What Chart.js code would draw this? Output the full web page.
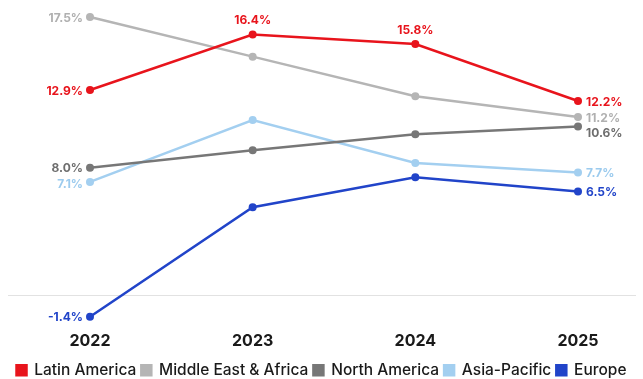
<!DOCTYPE html>
<html lang="en">
<head>
    <meta charset="UTF-8">
    <title>Regional growth 2022-2025</title>
    <style>
        body { margin: 0; background: #fff; }
        #wrap { width: 643px; height: 379px; }
    </style>
</head>
<body>
    <div id="wrap"><canvas id="growthChart"></canvas></div>

    <script src="https://cdn.jsdelivr.net/npm/chart.js"></script>
    <script>
        const years = ['2022', '2023', '2024', '2025'];
        const seriesNames = ['Latin America', 'Middle East & Africa', 'North America', 'Asia-Pacific', 'Europe'];
        const latinAmerica = [12.9, 16.4, 15.8, 12.2];
        const middleEastAfrica = [17.5, 15.0, 12.5, 11.2];
        const northAmerica = [8.0, 9.1, 10.1, 10.6];
        const asiaPacific = [7.1, 11.0, 8.3, 7.7];
        const europe = [-1.4, 5.5, 7.4, 6.5];

        const lineColors = ['#e8141c', '#b5b5b5', '#777777', '#a3cff0', '#2144c9'];
        const labelColors = ['#e8141c', '#b0b0b0', '#6e6e6e', '#9ccbee', '#2144c9'];
        const allValues = [latinAmerica, middleEastAfrica, northAmerica, asiaPacific, europe];

        // push labels apart so they don't overlap
        function spread(items, gap) {
            items.sort((a, b) => a.y - b.y);
            for (let k = 1; k < items.length; k++) {
                if (items[k].y < items[k - 1].y + gap) items[k].y = items[k - 1].y + gap;
            }
            return items;
        }

        // zero line + value labels (left of first point, right of last, above middle Latin America points)
        const labelPlugin = {
            id: 'pointLabels',
            beforeDatasetsDraw(chart) {
                const ctx = chart.ctx;
                const py = Math.round(chart.scales.y.getPixelForValue(0)) + 0.5;
                ctx.save();
                ctx.strokeStyle = '#e2e2e2';
                ctx.lineWidth = 1;
                ctx.beginPath();
                ctx.moveTo(8, py);
                ctx.lineTo(636, py);
                ctx.stroke();
                ctx.restore();
            },
            afterDatasetsDraw(chart) {
                const ctx = chart.ctx;
                ctx.save();
                ctx.font = 'bold 12px Inter, sans-serif';
                ctx.textBaseline = 'middle';
                const fmt = v => v.toFixed(1) + '%';
                const left = [], right = [];
                chart.data.datasets.forEach((ds, i) => {
                    const pts = chart.getDatasetMeta(i).data;
                    const n = pts.length;
                    left.push({ x: pts[0].x - 7, y: pts[0].y + 1, text: fmt(ds.data[0]), color: labelColors[i] });
                    right.push({ x: pts[n - 1].x + 8, y: pts[n - 1].y + 1, text: fmt(ds.data[n - 1]), color: labelColors[i] });
                    if (i === 0) {
                        ctx.textAlign = 'center';
                        ctx.fillStyle = labelColors[i];
                        for (let k = 1; k < n - 1; k++) {
                            ctx.fillText(fmt(ds.data[k]), pts[k].x, pts[k].y - 14);
                        }
                    }
                });
                ctx.textAlign = 'right';
                spread(left, 16).forEach(l => { ctx.fillStyle = l.color; ctx.fillText(l.text, l.x, l.y); });
                ctx.textAlign = 'left';
                spread(right, 15).forEach(l => { ctx.fillStyle = l.color; ctx.fillText(l.text, l.x, l.y); });
                ctx.restore();
            }
        };

        const ctx = document.getElementById('growthChart').getContext('2d');
        new Chart(ctx, {
            type: 'line',
            data: {
                labels: years,
                datasets: seriesNames.map((name, i) => ({
                    label: name,
                    data: allValues[i],
                    borderColor: lineColors[i],
                    backgroundColor: lineColors[i],
                    pointBackgroundColor: lineColors[i],
                    borderWidth: 2.5,
                    pointRadius: 4,
                    pointBorderWidth: 0,
                    tension: 0,
                    clip: false
                }))
            },
            options: {
                responsive: true,
                maintainAspectRatio: false,
                animation: false,
                layout: { padding: { left: 0, right: 0, top: 17, bottom: -9 } },
                scales: {
                    x: {
                        grid: { display: false },
                        border: { display: false },
                        ticks: {
                            color: '#1a1a1a',
                            font: { family: 'Inter, sans-serif', size: 16, weight: 'bold', lineHeight: 0.8 },
                            padding: 10
                        }
                    },
                    y: {
                        min: -1.4,
                        max: 17.5,
                        grid: { display: false },
                        border: { display: false },
                        ticks: { display: false },
                        afterFit(scale) { scale.width = 90; }
                    },
                    yRight: {
                        position: 'right',
                        min: -1.4,
                        max: 17.5,
                        grid: { display: false },
                        border: { display: false },
                        ticks: { display: false },
                        afterFit(scale) { scale.width = 65; }
                    }
                },
                plugins: {
                    legend: {
                        position: 'bottom',
                        labels: {
                            boxWidth: 10,
                            boxHeight: 10,
                            padding: 5,
                            color: '#1a1a1a',
                            font: { family: 'Inter, sans-serif', size: 15.5, weight: '500' }
                        }
                    },
                    tooltip: { enabled: false }
                }
            },
            plugins: [labelPlugin]
        });
    </script>
</body>
</html>
